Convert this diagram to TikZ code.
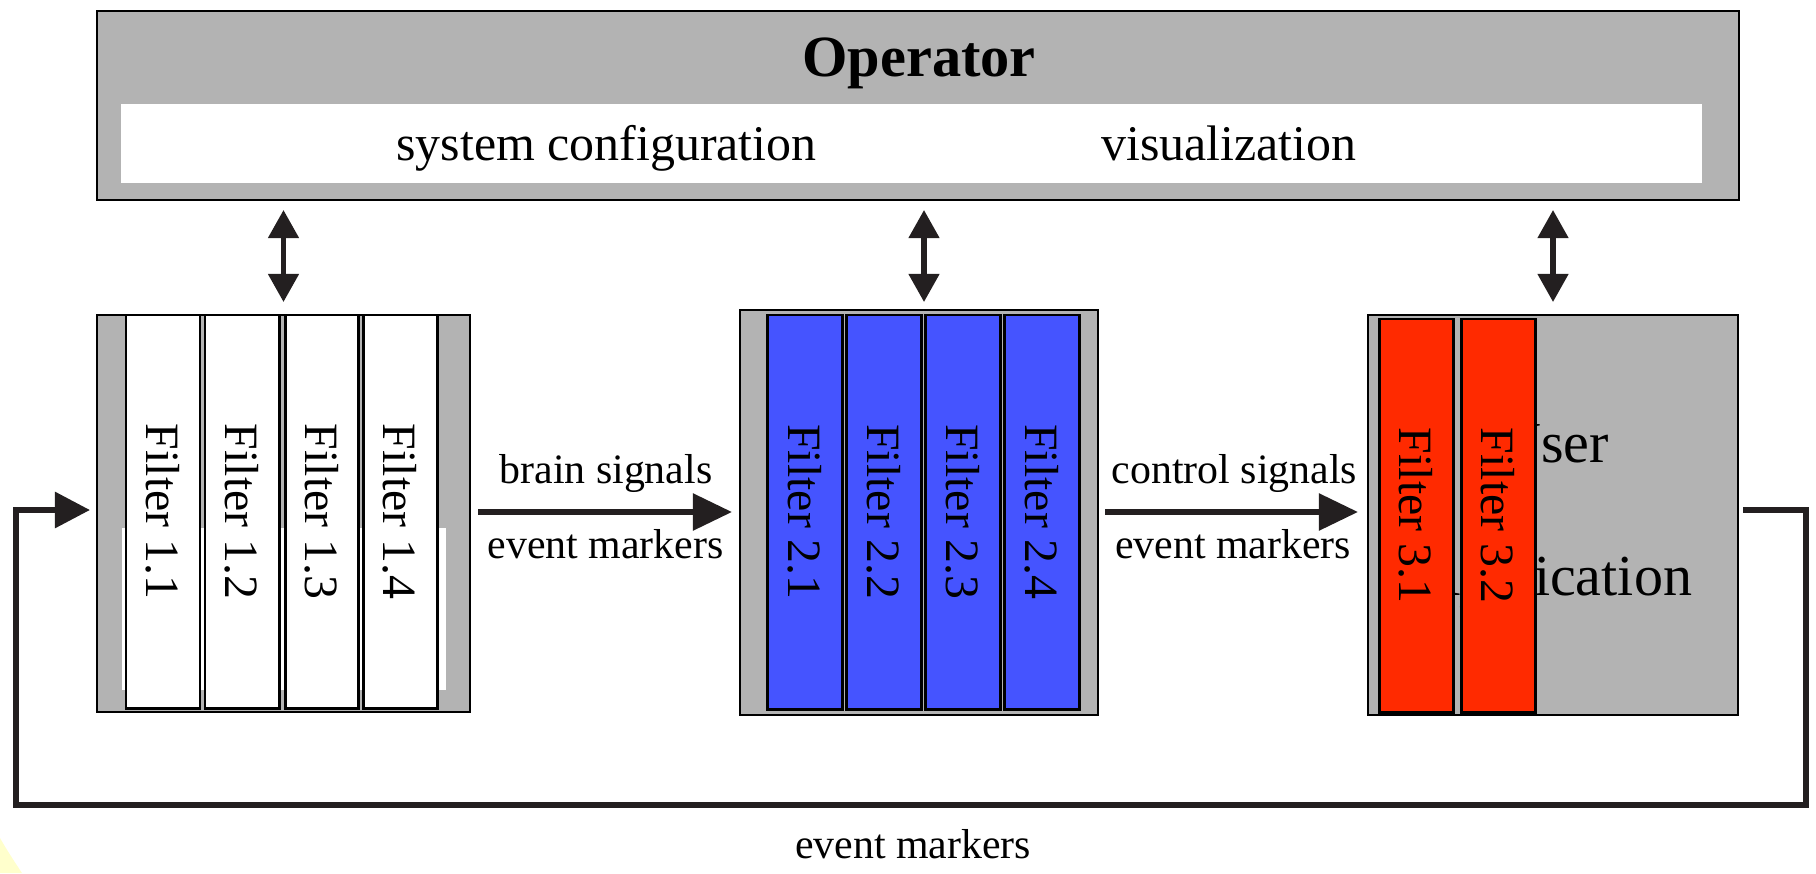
\documentclass[tikz,border=0pt]{standalone}
\usepackage{fontspec}
\setmainfont{Liberation Serif}
\usepackage{graphicx}
\usetikzlibrary{arrows.meta,calc}

\definecolor{panelgray}{RGB}{179,179,179}
\definecolor{inkblack}{RGB}{35,31,32}
\definecolor{filtblue}{RGB}{69,84,255}
\definecolor{filtred}{RGB}{255,42,0}
\definecolor{corneryellow}{RGB}{255,255,204}

\tikzset{
  wh/.style 2 args={minimum width=#1*0.01cm,minimum height=#2*0.01cm},
  panel/.style={draw=black,line width=0.6pt,fill=panelgray,inner sep=0pt,outer sep=0pt},
  blank/.style={fill=white,draw=none,inner sep=0pt,outer sep=0pt},
  filterbox/.style={draw=black,line width=0.85pt,inner sep=0pt,outer sep=0pt,
    font=\fontsize{13.6}{16}\selectfont},
  whitefilter/.style={filterbox,fill=white},
  bluefilter/.style={filterbox,fill=filtblue},
  redfilter/.style={filterbox,fill=filtred},
  flowlabel/.style={anchor=base,inner sep=0pt,font=\fontsize{11.9}{14}\selectfont},
  bigtext/.style={anchor=base,inner sep=0pt,font=\fontsize{14.2}{17}\selectfont},
  apptext/.style={anchor=base,inner sep=0pt,font=\fontsize{16.5}{20}\selectfont},
  flow/.style={draw=inkblack,line width=1.7pt,
    -{Triangle[length=11.1pt,width=10.2pt]}},
  dbl/.style={draw=inkblack,line width=1.5pt,
    {Triangle[length=8pt,width=8.5pt]}-{Triangle[length=8pt,width=8.5pt]}},
  feedback/.style={draw=inkblack,line width=1.7pt,line join=miter,
    -{Triangle[length=10pt,width=10pt]}},
}

\begin{document}
\begin{tikzpicture}[x=0.01cm,y=-0.01cm]
\useasboundingbox (0,0) rectangle (1816,873);

% soft yellow corner at the bottom left
\fill[corneryellow] (0,838) .. controls (8,852) and (16,864) .. (22,873) -- (0,873) -- cycle;

% operator panel
\node[panel,line width=0.8pt,wh={1642}{189}] (op) at (918,105.5) {};
\node[blank,wh={1581}{79}] (opinner) at (911.5,143.5) {};
\node[anchor=base,inner sep=0pt,font=\fontsize{16.6}{20}\selectfont\bfseries] (optitle) at (919,77) {Operator};
\node[bigtext] (syscfg) at (606.5,161) {system configuration};
\node[bigtext] (visual) at (1229,161) {visualization};

% first module: white filters
\node[panel,wh={373}{397}] (box1) at (283.5,513.5) {};
\node[blank,wh={324}{162}] (box1patch) at (283.5,609) {};
\node[whitefilter,wh={74}{393}] (f11) at (163,511.5) {\rotatebox{-90}{Filter 1.1}};
\node[whitefilter,wh={74}{393}] (f12) at (242,511.5) {\rotatebox{-90}{Filter 1.2}};
\node[whitefilter,wh={73}{393}] (f13) at (321.5,511.5) {\rotatebox{-90}{Filter 1.3}};
\node[whitefilter,wh={74}{393}] (f14) at (400,511.5) {\rotatebox{-90}{Filter 1.4}};

% second module: blue filters
\node[panel,wh={358}{405}] (box2) at (919,512.5) {};
\node[bluefilter,wh={75}{394}] (f21) at (804.5,512) {\rotatebox{-90}{Filter 2.1}};
\node[bluefilter,wh={75}{394}] (f22) at (883.5,512) {\rotatebox{-90}{Filter 2.2}};
\node[bluefilter,wh={75}{394}] (f23) at (962.5,512) {\rotatebox{-90}{Filter 2.3}};
\node[bluefilter,wh={75}{394}] (f24) at (1041.5,512) {\rotatebox{-90}{Filter 2.4}};

% third module: application with red filters in front
\node[panel,wh={370}{400}] (box3) at (1553,515) {};
\node[apptext] (appuser) at (1554,462) {User};
\node[apptext] (appname) at (1555,595) {Application};
\node[redfilter,wh={74}{393}] (f31) at (1416,515.5) {\rotatebox{-90}{Filter 3.1}};
\node[redfilter,wh={74}{393}] (f32) at (1498,515.5) {\rotatebox{-90}{Filter 3.2}};

% links to the operator
\draw[dbl] ($(box1.north)+(0,-13)$) -- ($(op.south -| box1.north)+(0,10)$);
\draw[dbl] ($(box2.north)+(5,-8)$) -- ($(op.south -| box2.north)+(5,10)$);
\draw[dbl] ($(box3.north)+(0,-13)$) -- ($(op.south -| box3.north)+(0,10)$);

% data flow between modules
\draw[flow] ($(box1.east)+(8,-1.5)$) -- ($(box2.west)+(-8,-0.5)$);
\node[flowlabel] (lbsig) at (606,483) {brain signals};
\node[flowlabel] (lbevt) at (605.5,558) {event markers};

\draw[flow] ($(box2.east)+(7,-0.5)$) -- ($(box3.west)+(-10,-3)$);
\node[flowlabel] (lcsig) at (1234.5,483) {control signals};
\node[flowlabel] (lcevt) at (1233,558) {event markers};

% feedback loop of event markers
\coordinate (loopNE) at (1806,510);
\coordinate (loopSE) at (1806,805);
\coordinate (loopSW) at (16,805);
\coordinate (loopNW) at (16,510);
\draw[feedback] ($(box3.east)+(5,-5)$) -- (loopNE) -- (loopSE) -- (loopSW) -- (loopNW) -- ($(box1.west)+(-7,-3.5)$);
\node[flowlabel] (lfevt) at (913,858) {event markers};
\end{tikzpicture}
\end{document}
